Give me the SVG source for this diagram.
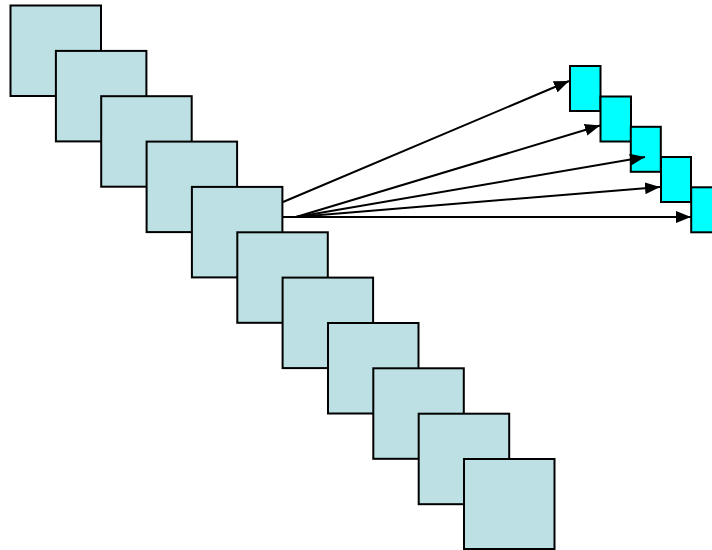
<svg xmlns="http://www.w3.org/2000/svg" width="712" height="550" viewBox="0 0 712 550">
<defs>
<style>
.big{fill:#BCE0E3;stroke:#000;stroke-width:2}
.small{fill:#00FFFF;stroke:#000;stroke-width:2}
.arr{stroke:#000;stroke-width:2;fill:none;marker-end:url(#ah)}
</style>
<marker id="ah" viewBox="0 0 15 12" refX="15" refY="6" markerWidth="15" markerHeight="12" markerUnits="userSpaceOnUse" orient="auto">
<path d="M0,0 L15,6 L0,12 z" fill="#000"/>
</marker>
</defs>
<rect width="712" height="550" fill="#fff"/>
<g id="n1"><rect class="big" x="10.5" y="5.5" width="90.5" height="90.5"/></g>
<g id="n2"><rect class="big" x="55.9" y="50.9" width="90.5" height="90.5"/></g>
<g id="n3"><rect class="big" x="101.2" y="96.2" width="90.5" height="90.5"/></g>
<g id="n4"><rect class="big" x="146.6" y="141.6" width="90.5" height="90.5"/></g>
<g id="n5"><rect class="big" x="191.9" y="186.9" width="90.5" height="90.5"/></g>
<g id="n6"><rect class="big" x="237.3" y="232.3" width="90.5" height="90.5"/></g>
<g id="n7"><rect class="big" x="282.6" y="277.6" width="90.5" height="90.5"/></g>
<g id="n8"><rect class="big" x="328" y="323" width="90.5" height="90.5"/></g>
<g id="n9"><rect class="big" x="373.3" y="368.3" width="90.5" height="90.5"/></g>
<g id="n10"><rect class="big" x="418.7" y="413.7" width="90.5" height="90.5"/></g>
<g id="n11"><rect class="big" x="464" y="459" width="90.5" height="90"/></g>
<g id="s1"><rect class="small" x="570" y="66" width="30.5" height="45"/></g>
<g id="s2"><rect class="small" x="600.5" y="96.5" width="30.5" height="45"/></g>
<g id="s3"><rect class="small" x="630.8" y="126.8" width="30" height="45"/></g>
<g id="s4"><rect class="small" x="661" y="157" width="30" height="45"/></g>
<g id="s5"><rect class="small" x="691.2" y="187.3" width="30" height="45"/></g>
<g id="connectors">
<line class="arr" x1="283" y1="202" x2="569" y2="81"/>
<line class="arr" x1="296" y1="217" x2="600" y2="125.5"/>
<line class="arr" x1="296" y1="217" x2="645" y2="157"/>
<line class="arr" x1="296" y1="217" x2="660" y2="187"/>
<line class="arr" x1="283" y1="217" x2="691" y2="217"/>
</g>
</svg>
